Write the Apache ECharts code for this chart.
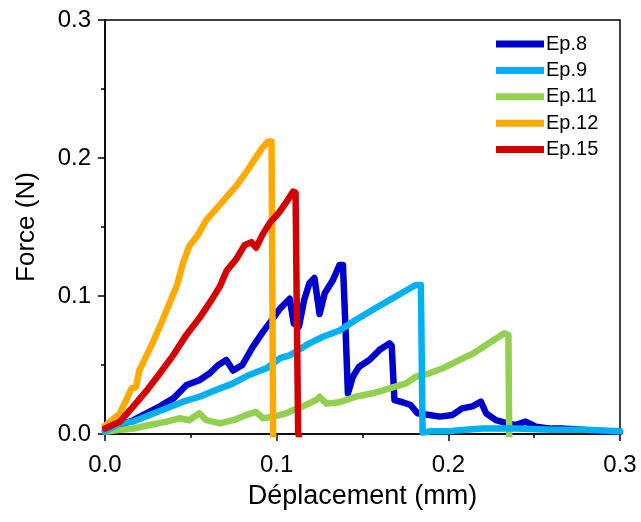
<!DOCTYPE html>
<html><head><meta charset="utf-8">
<script src="https://cdn.jsdelivr.net/npm/echarts@6/dist/echarts.min.js"></script>
<style>html,body{margin:0;padding:0;background:#fff}#c{width:641px;height:522px}</style>
</head><body><div id="c"></div>
<script>
const seriesNames = ['Ep.8', 'Ep.9', 'Ep.11', 'Ep.12', 'Ep.15'];
const seriesColors = ['#0000CD', '#00B0F0', '#92D050', '#FFAA00', '#D40000'];
const xTicks = [0, 0.1, 0.2, 0.3];
const yTicks = [0, 0.1, 0.2, 0.3];

const ep8 = [[0,0.002],[0.0087,0.0065],[0.0165,0.010],[0.024,0.015],[0.032,0.020],[0.040,0.026],[0.0475,0.0355],[0.055,0.039],[0.061,0.044],[0.066,0.050],[0.0707,0.0536],[0.0746,0.046],[0.080,0.050],[0.086,0.063],[0.092,0.074],[0.098,0.084],[0.102,0.091],[0.1076,0.098],[0.110,0.080],[0.113,0.078],[0.116,0.097],[0.119,0.109],[0.122,0.113],[0.125,0.087],[0.128,0.102],[0.1328,0.1116],[0.1366,0.1225],[0.1386,0.1225],[0.140,0.08],[0.1415,0.0295],[0.1444,0.0415],[0.148,0.0488],[0.154,0.0536],[0.160,0.061],[0.1657,0.0657],[0.167,0.064],[0.1686,0.0246],[0.1734,0.023],[0.178,0.021],[0.182,0.015],[0.189,0.0138],[0.195,0.0126],[0.2025,0.0138],[0.208,0.0186],[0.214,0.020],[0.219,0.0234],[0.222,0.015],[0.2277,0.010],[0.2345,0.0077],[0.239,0.0065],[0.245,0.009],[0.251,0.0053],[0.2587,0.004],[0.266,0.004],[0.278,0.003],[0.29,0.0017],[0.3,0.0017]];
const ep9 = [[0,0.002],[0.0087,0.0077],[0.0165,0.009],[0.026,0.0138],[0.036,0.0186],[0.0455,0.0234],[0.055,0.027],[0.065,0.032],[0.0746,0.0367],[0.084,0.0428],[0.094,0.0476],[0.102,0.055],[0.1076,0.057],[0.113,0.061],[0.119,0.0657],[0.127,0.0705],[0.1366,0.075],[0.146,0.0826],[0.156,0.090],[0.1657,0.097],[0.1754,0.104],[0.181,0.108],[0.184,0.108],[0.185,0.001],[0.19,0.002],[0.2,0.002],[0.21,0.003],[0.22,0.004],[0.24,0.004],[0.26,0.003],[0.28,0.003],[0.3,0.002]];
const ep11 = [[0,0.0017],[0.0087,0.003],[0.0165,0.004],[0.026,0.0065],[0.036,0.009],[0.0436,0.0114],[0.049,0.010],[0.055,0.015],[0.059,0.010],[0.067,0.0077],[0.0746,0.010],[0.0824,0.0138],[0.088,0.016],[0.092,0.0114],[0.098,0.0126],[0.1056,0.015],[0.1095,0.0174],[0.1153,0.020],[0.123,0.0246],[0.125,0.027],[0.129,0.022],[0.1366,0.023],[0.146,0.027],[0.156,0.0295],[0.1657,0.033],[0.1754,0.0367],[0.181,0.0415],[0.189,0.044],[0.1967,0.0476],[0.2045,0.0524],[0.212,0.057],[0.214,0.058],[0.222,0.0645],[0.2277,0.069],[0.2326,0.073],[0.235,0.0717],[0.2355,-0.007],[0.24,-0.007]];
const ep12 = [[0,0.006],[0.002,0.008],[0.0087,0.015],[0.0155,0.033],[0.018,0.034],[0.020,0.046],[0.027,0.064],[0.033,0.081],[0.038,0.096],[0.042,0.108],[0.0455,0.124],[0.049,0.136],[0.054,0.144],[0.059,0.155],[0.064,0.162],[0.071,0.172],[0.0766,0.180],[0.0824,0.190],[0.0872,0.199],[0.092,0.208],[0.095,0.212],[0.097,0.212],[0.098,-0.007],[0.105,-0.007]];
const ep15 = [[0,0.004],[0.0087,0.009],[0.0165,0.020],[0.024,0.031],[0.032,0.044],[0.0397,0.057],[0.0475,0.072],[0.055,0.084],[0.062,0.097],[0.067,0.107],[0.0707,0.118],[0.0766,0.127],[0.0814,0.137],[0.0853,0.139],[0.088,0.135],[0.092,0.145],[0.096,0.153],[0.1017,0.161],[0.1056,0.168],[0.1095,0.1756],[0.111,0.175],[0.1125,0.001],[0.114,-0.007],[0.17,-0.007]];

const allData = [ep8, ep9, ep11, ep12, ep15];
const zOrder = [2, 4, 3, 5, 6];
const FONT = 'Liberation Sans, Arial, sans-serif';

const chart = echarts.init(document.getElementById('c'), null, {renderer: 'canvas'});
const axisCommon = {
  min: 0, max: 0.3, interval: 0.1,
  axisLine: {show: true, onZero: false, lineStyle: {color: '#000', width: 1.5}},
  axisTick: {show: true, inside: false, length: 7, lineStyle: {color: '#000', width: 1.5}},
  minorTick: {show: true, splitNumber: 2, length: 4, lineStyle: {color: '#000', width: 1.5}},
  splitLine: {show: false},
  nameLocation: 'middle'
};
chart.setOption({
  animation: false,
  backgroundColor: '#fff',
  grid: {left: 105, right: 21, top: 20, bottom: 88, show: true, borderColor: '#000', borderWidth: 1.5, backgroundColor: 'transparent'},
  legend: {
    data: seriesNames,
    orient: 'vertical', left: 491, top: 29,
    itemWidth: 48, itemHeight: 7, itemGap: 6.4,
    icon: 'rect',
    textStyle: {fontFamily: FONT, fontSize: 20, color: '#000', padding: [0,0,0,-3]}
  },
  xAxis: Object.assign({}, axisCommon, {
    type: 'value', name: 'Déplacement (mm)', nameGap: 49,
    nameTextStyle: {fontFamily: FONT, fontSize: 27, color: '#000'},
    axisLabel: {fontFamily: FONT, fontSize: 24, color: '#000', margin: 19,
      formatter: v => xTicks.includes(Math.round(v*10)/10) ? v.toFixed(1) : ''}
  }),
  yAxis: Object.assign({}, axisCommon, {
    type: 'value', name: 'Force (N)', nameGap: 65,
    nameTextStyle: {fontFamily: FONT, fontSize: 26, color: '#000'},
    axisLabel: {fontFamily: FONT, fontSize: 24, color: '#000', margin: 14,
      formatter: v => yTicks.includes(Math.round(v*10)/10) ? v.toFixed(1) : ''}
  }),
  series: seriesNames.map((n, i) => ({
    name: n, type: 'line', data: allData[i], z: zOrder[i],
    showSymbol: false, symbol: 'none', clip: true,
    lineStyle: {color: seriesColors[i], width: 6.5, join: 'round', cap: 'round'},
    itemStyle: {color: seriesColors[i]}
  }))
});
</script></body></html>
